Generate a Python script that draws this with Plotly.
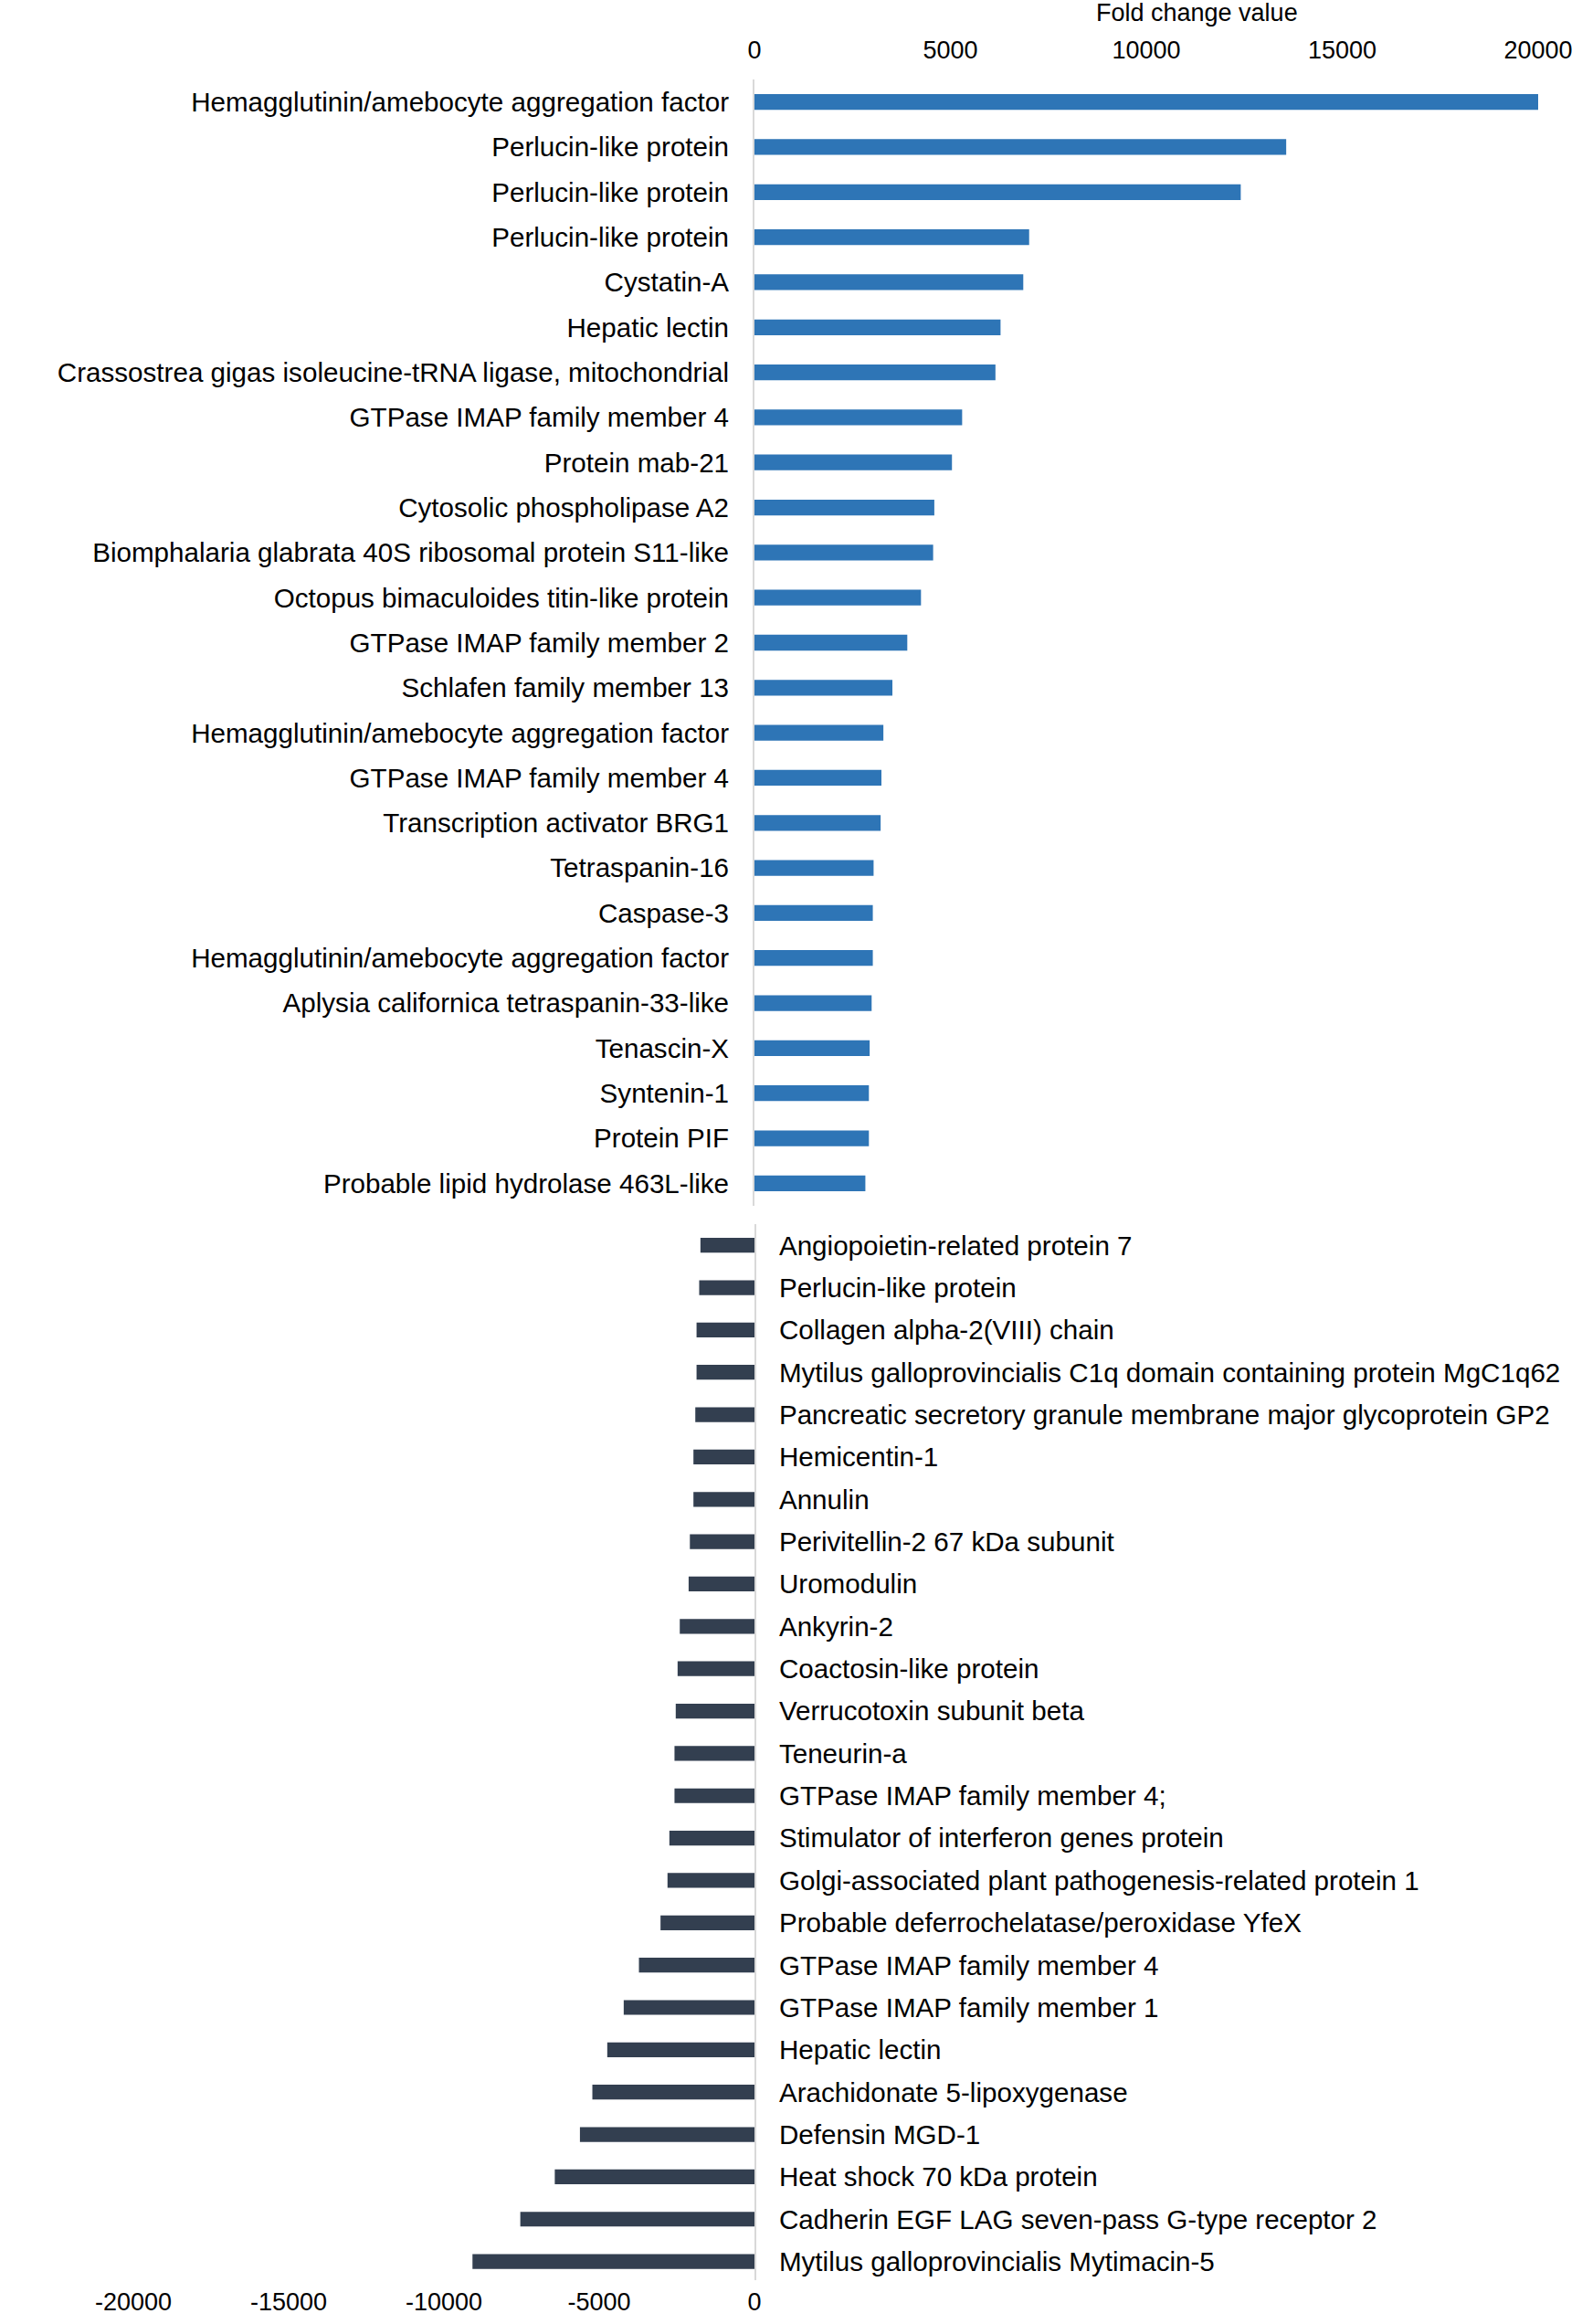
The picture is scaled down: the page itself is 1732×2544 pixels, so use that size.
import plotly.graph_objects as go

# Genes up-regulated (top panel)
up_genes = [
    'Hemagglutinin/amebocyte aggregation factor', 'Perlucin-like protein', 'Perlucin-like protein',
    'Perlucin-like protein', 'Cystatin-A', 'Hepatic lectin',
    'Crassostrea gigas isoleucine-tRNA ligase, mitochondrial', 'GTPase IMAP family member 4',
    'Protein mab-21', 'Cytosolic phospholipase A2', 'Biomphalaria glabrata 40S ribosomal protein S11-like',
    'Octopus bimaculoides titin-like protein', 'GTPase IMAP family member 2', 'Schlafen family member 13',
    'Hemagglutinin/amebocyte aggregation factor', 'GTPase IMAP family member 4', 'Transcription activator BRG1',
    'Tetraspanin-16', 'Caspase-3', 'Hemagglutinin/amebocyte aggregation factor',
    'Aplysia californica tetraspanin-33-like', 'Tenascin-X', 'Syntenin-1', 'Protein PIF',
    'Probable lipid hydrolase 463L-like',
]
up_values = [20000, 13570, 12410, 7010, 6860, 6280, 6150, 5300, 5040, 4590, 4560, 4250, 3900,
             3520, 3290, 3240, 3220, 3040, 3020, 3020, 2990, 2940, 2920, 2920, 2830]

# Genes down-regulated (bottom panel)
down_genes = [
    'Angiopoietin-related protein 7', 'Perlucin-like protein', 'Collagen alpha-2(VIII) chain',
    'Mytilus galloprovincialis C1q domain containing protein MgC1q62',
    'Pancreatic secretory granule membrane major glycoprotein GP2', 'Hemicentin-1', 'Annulin',
    'Perivitellin-2 67 kDa subunit', 'Uromodulin', 'Ankyrin-2', 'Coactosin-like protein',
    'Verrucotoxin subunit beta', 'Teneurin-a', 'GTPase IMAP family member 4;',
    'Stimulator of interferon genes protein', 'Golgi-associated plant pathogenesis-related protein 1',
    'Probable deferrochelatase/peroxidase YfeX', 'GTPase IMAP family member 4',
    'GTPase IMAP family member 1', 'Hepatic lectin', 'Arachidonate 5-lipoxygenase', 'Defensin MGD-1',
    'Heat shock 70 kDa protein', 'Cadherin EGF LAG seven-pass G-type receptor 2',
    'Mytilus galloprovincialis Mytimacin-5',
]
down_values = [-1740, -1780, -1865, -1865, -1905, -1965, -1965, -2080, -2120, -2405, -2475, -2535,
               -2575, -2575, -2740, -2800, -3025, -3720, -4210, -4740, -5220, -5620, -6430, -7540,
               -9080]

up_ticks = [0, 5000, 10000, 15000, 20000]
down_ticks = [-20000, -15000, -10000, -5000, 0]

FONT = 'Liberation Sans, Arial, sans-serif'
W, H = 1732, 2544

fig = go.Figure()

# positions keep repeated gene names as separate rows
up_pos = list(range(len(up_genes)))
down_pos = list(range(len(down_genes)))

fig.add_trace(go.Bar(x=up_values, y=up_pos, orientation='h', marker_color='#2E75B6',
                     marker_line_width=0, xaxis='x', yaxis='y', showlegend=False))
fig.add_trace(go.Bar(x=down_values, y=down_pos, orientation='h', marker_color='#333F50',
                     marker_line_width=0, xaxis='x2', yaxis='y2', showlegend=False))

fig.update_layout(
    width=W, height=H,
    margin=dict(l=0, r=0, t=0, b=0, pad=0),
    plot_bgcolor='white', paper_bgcolor='white',
    bargap=0.65,
    font=dict(family=FONT, size=29.6, color='black'),
    xaxis=dict(domain=[826 / W, 1684 / W], range=[0, 20000], side='top', anchor='y',
               tickvals=up_ticks, ticktext=[str(t) for t in up_ticks], automargin=False,
               tickfont=dict(size=27), showgrid=False, zeroline=False, showline=False,
               ticklabelstandoff=17),
    yaxis=dict(domain=[1 - 1320 / H, 1 - 87 / H], range=[len(up_genes) - 0.5, -0.5],
               anchor='x', tickvals=up_pos, ticktext=up_genes, showgrid=False, zeroline=False,
               automargin=False, showline=True, linecolor='#D9D9D9', linewidth=2, ticks='',
               ticklabelstandoff=20),
    xaxis2=dict(domain=[146 / W, 826 / W], range=[-20000, 0], side='bottom', anchor='y2',
                tickvals=down_ticks, ticktext=[str(t) for t in down_ticks], automargin=False,
                tickfont=dict(size=27), showgrid=False, zeroline=False, showline=False,
                ticklabelstandoff=5),
    yaxis2=dict(domain=[1 - 2496 / H, 1 - 1340 / H], range=[len(down_genes) - 0.56, -0.5],
                anchor='x2', side='right', tickvals=down_pos, ticktext=down_genes,
                automargin=False, showgrid=False, zeroline=False, showline=True,
                linecolor='#D9D9D9', linewidth=2, ticks='', ticklabelstandoff=19),
)

fig.add_annotation(text='Fold change value', x=1310 / W, y=1 - 14 / H, xref='paper', yref='paper',
                   showarrow=False, font=dict(size=27), xanchor='center', yanchor='middle')

fig.write_html('out.html', config={'displayModeBar': False},
               post_script="document.body.style.margin='0';")
